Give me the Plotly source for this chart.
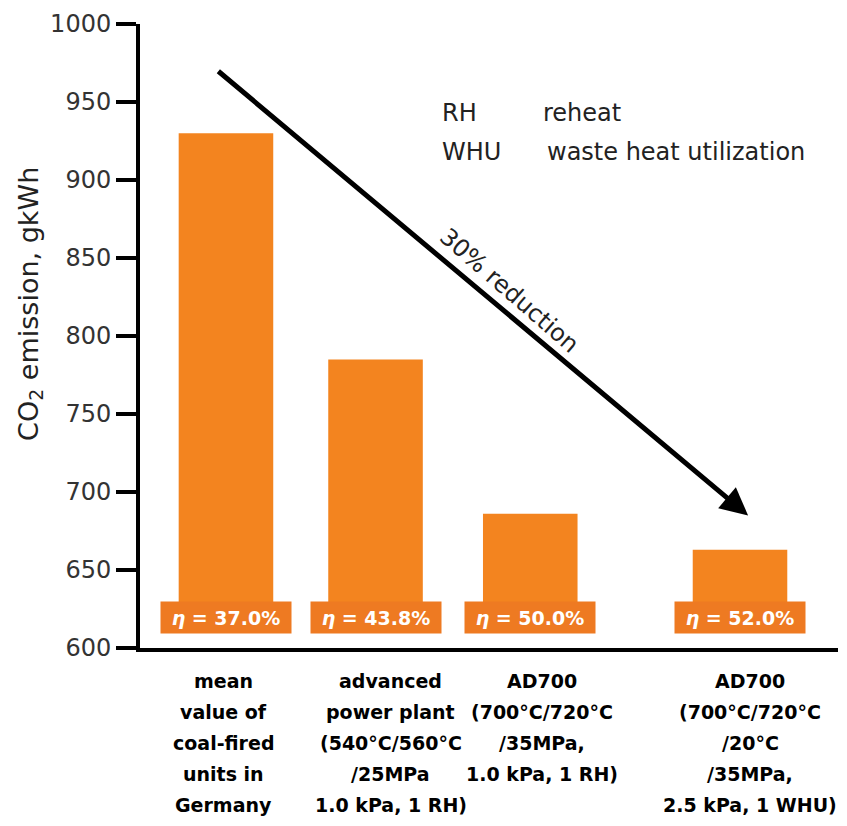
import plotly.graph_objects as go

categories = [
    "mean<br>value of<br>coal-fired<br>units in<br>Germany",
    "advanced<br>power plant<br>(540°C/560°C<br>/25MPa<br>1.0 kPa, 1 RH)",
    "AD700<br>(700°C/720°C<br>/35MPa,<br>1.0 kPa, 1 RH)",
    "AD700<br>(700°C/720°C<br>/20°C<br>/35MPa,<br>2.5 kPa, 1 WHU)",
]
emission = [930, 785, 686, 663]
efficiency = ["37.0%", "43.8%", "50.0%", "52.0%"]
y_ticks = [600, 650, 700, 750, 800, 850, 900, 950, 1000]

# layout: positions of the categories along the x axis, label offsets (px)
x_pos = [0.5, 1.37, 2.27, 3.49]
label_shift = [-2, 15, 12, 10]
bar_base = 612

FONT = "DejaVu Sans"

fig = go.Figure()
fig.add_trace(go.Bar(
    x=x_pos,
    y=[v - bar_base for v in emission],
    base=bar_base,
    width=0.55,
    marker=dict(color="#F3841F", line=dict(width=0)),
    hoverinfo="skip",
))

annotations = []
# efficiency boxes
for xp, eff in zip(x_pos, efficiency):
    annotations.append(dict(
        x=xp, y=619.5, xref="x", yref="y",
        text="<b><i>η</i> = " + eff + "</b>",
        showarrow=False,
        font=dict(family=FONT, size=19, color="white"),
        bgcolor="#EE7A22",
        width=126, height=27, borderpad=2,
    ))

# category labels, one line per annotation for reference line spacing
for xp, sh, cat in zip(x_pos, label_shift, categories):
    for i, line in enumerate(cat.split("<br>")):
        annotations.append(dict(
            x=xp, y=0, xref="x", yref="paper",
            xanchor="center", yanchor="middle",
            xshift=sh, yshift=-(33 + 31 * i),
            text="<b>" + line + "</b>", showarrow=False,
            font=dict(family=FONT, size=19, color="black"),
        ))

# arrow
annotations.append(dict(
    x=3.537, y=685, ax=0.447, ay=970.5,
    xref="x", yref="y", axref="x", ayref="y",
    text="", showarrow=True,
    arrowhead=2, arrowsize=1.1, arrowwidth=5, arrowcolor="black",
))
annotations.append(dict(
    x=2.152, y=829, xref="x", yref="y",
    text="30% reduction", showarrow=False, textangle=41,
    font=dict(family=FONT, size=24, color="#222222"),
))
# abbreviation key
key_font = dict(family=FONT, size=24, color="#222222")
for txt, xx, yy in [("RH", 0.43, 0.857), ("reheat", 0.574, 0.857),
                    ("WHU", 0.43, 0.795), ("waste heat utilization", 0.58, 0.795)]:
    annotations.append(dict(
        x=xx, y=yy, xref="paper", yref="paper", xanchor="left", yanchor="middle",
        text=txt, showarrow=False, font=key_font,
    ))
# y axis title
annotations.append(dict(
    x=-0.158, y=0.551, xref="paper", yref="paper",
    xanchor="center", yanchor="middle", textangle=-90,
    text="CO<sub>2</sub> emission, gkWh", showarrow=False,
    font=dict(family=FONT, size=27, color="#222222"),
))

fig.update_layout(
    width=847, height=826,
    margin=dict(l=140, r=9, t=24, b=178),
    paper_bgcolor="white", plot_bgcolor="white",
    showlegend=False,
    annotations=annotations,
    xaxis=dict(
        range=[0, 4.06],
        showticklabels=False,
        showline=True, linecolor="black", linewidth=4,
        ticks="", showgrid=False, zeroline=False,
    ),
    yaxis=dict(
        range=[600, 1000],
        tickvals=y_ticks,
        tickfont=dict(family=FONT, size=24, color="#333333"),
        showline=True, linecolor="black", linewidth=4,
        ticks="outside", ticklen=20, tickwidth=4, tickcolor="black",
        showgrid=False, zeroline=False,
    ),
)

fig.write_html("out.html")
